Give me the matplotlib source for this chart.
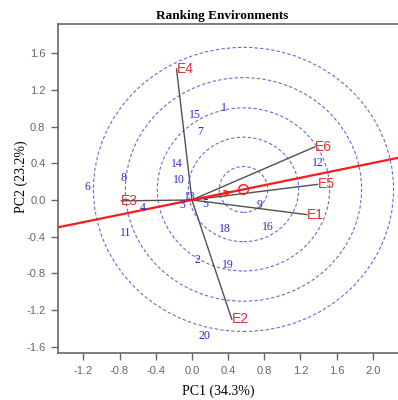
import matplotlib
matplotlib.use("Agg")
import matplotlib.pyplot as plt
from matplotlib.patches import Ellipse
import numpy as np

plt.rcParams['axes.unicode_minus'] = False

# environments (vector end points)
env_names = ['E1', 'E2', 'E3', 'E4', 'E5', 'E6']
env_pc1 = [1.27, 0.44, -0.78, -0.17, 1.39, 1.36]
env_pc2 = [-0.16, -1.30, -0.01, 1.43, 0.17, 0.58]

# genotypes (17 is hidden in the original)
gen_names = ['1', '2', '3', '4', '5', '6', '7', '8', '9', '10',
             '11', '12', '13', '14', '15', '16', '18', '19', '20']
gen_pc1 = [0.35, 0.06, -0.11, -0.54, 0.15, -1.15, 0.09, -0.76, 0.75, -0.14,
           -0.73, 1.39, -0.02, -0.17, 0.03, 0.84, 0.36, 0.40, 0.14]
gen_pc2 = [1.00, -0.65, -0.06, -0.09, -0.04, 0.14, 0.74, 0.24, -0.05, 0.22,
           -0.36, 0.40, 0.03, 0.39, 0.93, -0.29, -0.32, -0.71, -1.48]

# average environment and ranking circles
avg_env = (0.57, 0.115)
circle_radii = [0.25, 0.57, 0.89, 1.22, 1.55]

xticks = [-1.2, -0.8, -0.4, 0.0, 0.4, 0.8, 1.2, 1.6, 2.0]
yticks = [-1.6, -1.2, -0.8, -0.4, 0.0, 0.4, 0.8, 1.2, 1.6]

fig = plt.figure(figsize=(3.98, 4.0), dpi=100)
ax = fig.add_axes([58 / 398, 1 - 353 / 400, (400 - 58) / 398, (353 - 24) / 400])
ax.set_xlim(-1.48, 2.30)
ax.set_ylim(-1.67, 1.92)

for r in circle_radii:
    ax.add_patch(Ellipse(avg_env, 2 * r * 1.07, 2 * r, fill=False,
                         edgecolor='#6a6ad8', lw=0.8, ls=(0, (3, 2)), zorder=1))

for name, x, y in zip(env_names, env_pc1, env_pc2):
    ax.plot([0, x], [0, y], color='#505050', lw=1.0, zorder=2)
    ax.text(x, y, name, color='#e8303a', fontsize=10, family='Liberation Sans',
            ha='left', va='center', zorder=4)

ax.axline((0, 0), avg_env, color='#ff1a1a', lw=1.6, zorder=3)
ax.annotate('', xy=(0.47, 0.47 * avg_env[1] / avg_env[0]), xytext=(0, 0),
            arrowprops=dict(arrowstyle='->', color='#ff1a1a', lw=1.2), zorder=3)
ax.plot(*avg_env, 'o', mfc='none', mec='#ff1a1a', ms=7, mew=1.0, zorder=3)

for name, x, y in zip(gen_names, gen_pc1, gen_pc2):
    ax.text(x, y, name, color='#2b2bd0', fontsize=8.5, family='Liberation Serif',
            ha='center', va='center', zorder=4)

ax.set_xticks(xticks)
ax.set_yticks(yticks)
ax.set_xticklabels(['%.1f' % v for v in xticks], family='Liberation Sans')
ax.set_yticklabels(['%.1f' % v for v in yticks], family='Liberation Sans')
ax.tick_params(colors='#666666', labelsize=8, length=5, width=1.0, pad=4)
for side in ['left', 'bottom', 'top']:
    ax.spines[side].set_color('#666666')
    ax.spines[side].set_linewidth(1.2)
ax.spines['right'].set_visible(False)

fig.text(222 / 398, 1 - 16 / 400, 'Ranking Environments', family='Liberation Serif',
         fontweight='bold', fontsize=9.5, ha='center', va='center')
fig.text(218 / 398, 1 - 391 / 400, 'PC1 (34.3%)', family='Liberation Serif',
         fontsize=10, ha='center', va='center')
fig.text(21 / 398, 1 - 177 / 400, 'PC2 (23.2%)', family='Liberation Serif',
         fontsize=10, ha='center', va='center', rotation=90)

fig.savefig('out.png', dpi=100)
